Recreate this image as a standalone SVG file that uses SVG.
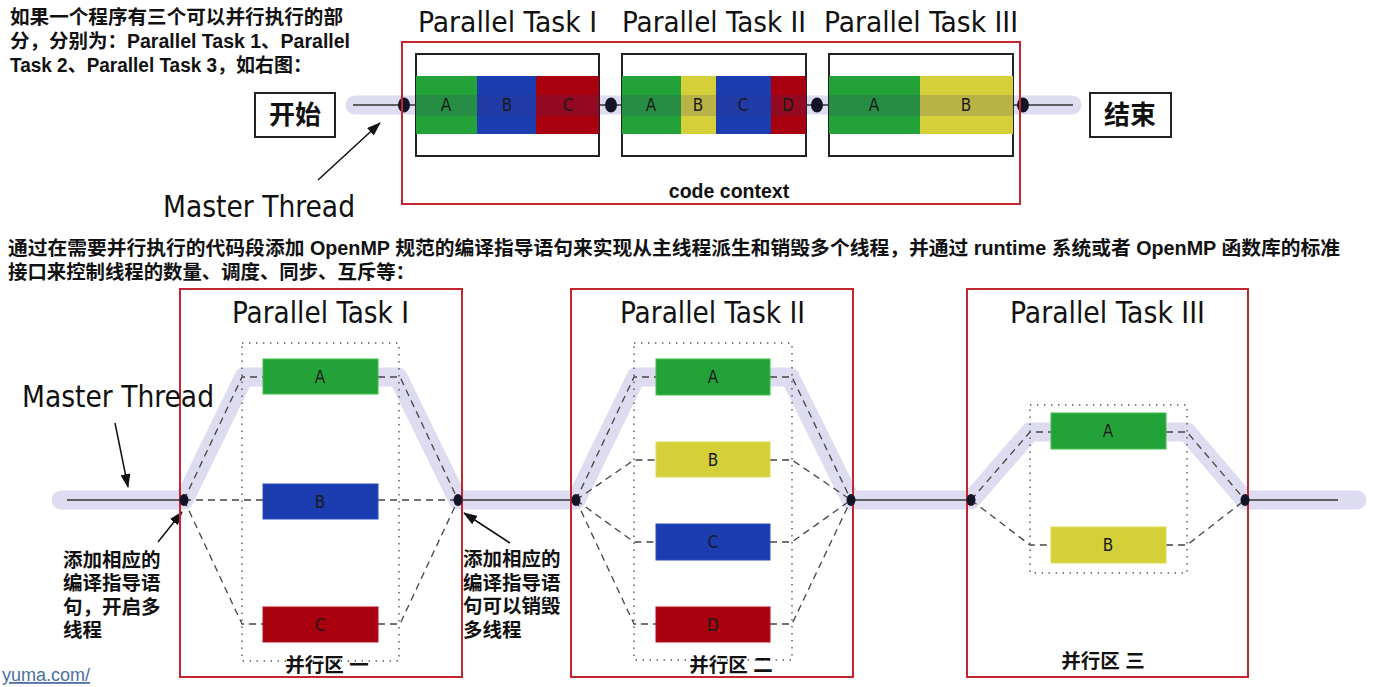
<svg xmlns="http://www.w3.org/2000/svg" width="1387" height="687" viewBox="0 0 1387 687">
<style>
.cjk{font-family:"Liberation Sans","Noto Sans CJK SC",sans-serif;font-weight:bold;font-size:19.5px;fill:#111}
.title{font-family:"DejaVu Sans Condensed","DejaVu Sans",sans-serif;font-size:29px;fill:#111}
.lbl{font-family:"DejaVu Sans Condensed","DejaVu Sans",sans-serif;font-size:17px;fill:#1a1a1a;text-anchor:middle}
.redbox{fill:none;stroke:#c3262f;stroke-width:2}
.inbox{fill:#fff;stroke:#222;stroke-width:2}
.band{fill:none;stroke:#dedcf0;stroke-width:19;stroke-linecap:round;stroke-linejoin:round}
.thin{stroke:#333;stroke-width:1.3;fill:none}
.dash{stroke:#444;stroke-width:1.3;fill:none;stroke-dasharray:7 5}
.dot{fill:none;stroke:#555;stroke-width:1.4;stroke-dasharray:1.4 5.6}
.g{fill:#23a23a;stroke:#3fc04a;stroke-width:1}
.b{fill:#1c3db0;stroke:#2a4cc0;stroke-width:1}
.r{fill:#a8000f;stroke:#b81020;stroke-width:1}
.y{fill:#d5d03a;stroke:#e0da50;stroke-width:1}
.node{fill:#141428}
.arr{stroke:#111;stroke-width:1.5;fill:none;marker-end:url(#ah)}
</style>
<defs>
<marker id="ah" markerUnits="userSpaceOnUse" markerWidth="14" markerHeight="10" viewBox="0 0 14 10" refX="13" refY="5" orient="auto">
<path d="M0,0 L14,5 L0,10 z" fill="#111"/>
</marker>
</defs>
<rect width="1387" height="687" fill="#fff"/>

<g id="intro-text">
<text class="cjk" x="10" y="24" textLength="333" lengthAdjust="spacingAndGlyphs">如果一个程序有三个可以并行执行的部</text>
<text class="cjk" x="10" y="48" textLength="340" lengthAdjust="spacingAndGlyphs">分，分别为：Parallel Task 1、Parallel</text>
<text class="cjk" x="10" y="72" textLength="302" lengthAdjust="spacingAndGlyphs">Task 2、Parallel Task 3，如右图：</text>
</g>

<g id="top-titles">
<text class="title" x="418" y="32" textLength="179" lengthAdjust="spacingAndGlyphs">Parallel Task I</text>
<text class="title" x="622" y="32" textLength="184" lengthAdjust="spacingAndGlyphs">Parallel Task II</text>
<text class="title" x="824" y="32" textLength="194" lengthAdjust="spacingAndGlyphs">Parallel Task III</text>
</g>

<g id="top-connectors">
<path class="band" d="M355,105 H1072"/>
<path class="thin" d="M353,105 H1073"/>
</g>

<g id="top-task1">
<rect class="inbox" x="416" y="54" width="183" height="102"/>
<rect x="416" y="76" width="61" height="58" fill="#23a23a"/>
<rect x="477" y="76" width="59" height="58" fill="#1c3db0"/>
<rect x="536" y="76" width="63" height="58" fill="#a8000f"/>
<rect x="416" y="95" width="183" height="21" fill="#3c3278" fill-opacity="0.18"/>
<text class="lbl" x="446" y="111">A</text>
<text class="lbl" x="507" y="111">B</text>
<text class="lbl" x="568" y="111">C</text>
</g>
<g id="top-task2">
<rect class="inbox" x="622" y="54" width="184" height="102"/>
<rect x="622" y="76" width="59" height="58" fill="#23a23a"/>
<rect x="681" y="76" width="35" height="58" fill="#d5d03a"/>
<rect x="716" y="76" width="55" height="58" fill="#1c3db0"/>
<rect x="771" y="76" width="35" height="58" fill="#a8000f"/>
<rect x="622" y="95" width="184" height="21" fill="#3c3278" fill-opacity="0.18"/>
<text class="lbl" x="651" y="111">A</text>
<text class="lbl" x="698" y="111">B</text>
<text class="lbl" x="743" y="111">C</text>
<text class="lbl" x="788" y="111">D</text>
</g>
<g id="top-task3">
<rect class="inbox" x="829" y="54" width="184" height="102"/>
<rect x="829" y="76" width="91" height="58" fill="#23a23a"/>
<rect x="920" y="76" width="93" height="58" fill="#d5d03a"/>
<rect x="829" y="95" width="184" height="21" fill="#3c3278" fill-opacity="0.18"/>
<text class="lbl" x="874" y="111">A</text>
<text class="lbl" x="966" y="111">B</text>
</g>
<g id="top-dots">
<ellipse class="node" cx="404" cy="105" rx="6" ry="7.5"/>
<ellipse class="node" cx="611" cy="105" rx="6" ry="7.5"/>
<ellipse class="node" cx="817" cy="105" rx="6" ry="7.5"/>
<ellipse class="node" cx="1023" cy="105" rx="6" ry="7.5"/>
</g>
<g id="code-context">
<rect class="redbox" x="402" y="42" width="618" height="162"/>
<text class="cjk" x="729" y="198" text-anchor="middle">code context</text>
</g>
<g id="start">
<rect x="255" y="93" width="80" height="44" fill="#fff" stroke="#222" stroke-width="2"/>
<text class="cjk" x="295" y="124" text-anchor="middle" style="font-size:26px">开始</text>
</g>
<g id="end">
<rect x="1090" y="93" width="81" height="44" fill="#fff" stroke="#222" stroke-width="2"/>
<text class="cjk" x="1130" y="124" text-anchor="middle" style="font-size:26px">结束</text>
</g>
<g id="top-master">
<text class="title" x="163" y="217" style="font-size:30px" textLength="192" lengthAdjust="spacingAndGlyphs">Master Thread</text>
<line class="arr" x1="318" y1="180" x2="380" y2="123"/>
</g>

<g id="para-text">
<text class="cjk" x="8" y="255" textLength="1332" lengthAdjust="spacingAndGlyphs">通过在需要并行执行的代码段添加 OpenMP 规范的编译指导语句来实现从主线程派生和销毁多个线程，并通过 runtime 系统或者 OpenMP 函数库的标准</text>
<text class="cjk" x="8" y="279" textLength="407" lengthAdjust="spacingAndGlyphs">接口来控制线程的数量、调度、同步、互斥等：</text>
</g>

<g id="connectors">
<path class="band" d="M61,500 H184 L244,377 H398 L458,500 H576 L636,377 H790 L851,500 H971 L1030,432 H1187 L1245,500 H1357"/>
<path class="thin" d="M67,500 H184 M458,500 H576 M851,500 H971 M1245,500 H1338"/>
<path class="dash" d="M184,500 L242,377 H263 M378,377 H400 L458,500 M184,500 H263 M378,500 H458 M184,500 L242,624 H263 M378,624 H400 L458,500"/>
<path class="dash" d="M576,500 L634,377 H656 M770,377 H792 L851,500 M576,500 L634,460 H656 M770,460 H792 L851,500 M576,500 L634,542 H656 M770,542 H792 L851,500 M576,500 L634,624 H656 M770,624 H792 L851,500"/>
<path class="dash" d="M971,500 L1030,432 H1051 M1166,432 H1187 L1245,500 M971,500 L1030,545 H1051 M1166,545 H1187 L1245,500"/>
<line class="arr" x1="115" y1="423" x2="128" y2="487"/>
<line class="arr" x1="158" y1="542" x2="182" y2="512"/>
<line class="arr" x1="510" y1="543" x2="464" y2="513"/>
</g>

<g id="region1">
<rect class="dot" x="242" y="343" width="157" height="318"/>
<rect class="g" x="263" y="359" width="115" height="35"/>
<rect class="b" x="263" y="484" width="115" height="35"/>
<rect class="r" x="263" y="607" width="115" height="35"/>
<text class="lbl" x="320" y="383">A</text>
<text class="lbl" x="320" y="508">B</text>
<text class="lbl" x="320" y="631">C</text>
<rect class="redbox" x="180" y="289" width="282" height="388"/>
<text class="title" x="232" y="323" style="font-size:30px" textLength="177" lengthAdjust="spacingAndGlyphs">Parallel Task I</text>
<text class="cjk" x="327" y="672" text-anchor="middle">并行区 一</text>
</g>
<g id="region2">
<rect class="dot" x="634" y="343" width="158" height="317"/>
<rect class="g" x="656" y="359" width="114" height="36"/>
<rect class="y" x="656" y="442" width="114" height="35"/>
<rect class="b" x="656" y="524" width="114" height="36"/>
<rect class="r" x="656" y="607" width="114" height="35"/>
<text class="lbl" x="713" y="383">A</text>
<text class="lbl" x="713" y="466">B</text>
<text class="lbl" x="713" y="548">C</text>
<text class="lbl" x="713" y="631">D</text>
<rect class="redbox" x="571" y="289" width="282" height="388"/>
<text class="title" x="620" y="323" style="font-size:30px" textLength="185" lengthAdjust="spacingAndGlyphs">Parallel Task II</text>
<text class="cjk" x="731" y="672" text-anchor="middle">并行区 二</text>
</g>
<g id="region3">
<rect class="dot" x="1030" y="405" width="157" height="168"/>
<rect class="g" x="1051" y="413" width="115" height="36"/>
<rect class="y" x="1051" y="527" width="115" height="36"/>
<text class="lbl" x="1108" y="437">A</text>
<text class="lbl" x="1108" y="551">B</text>
<rect class="redbox" x="967" y="289" width="281" height="388"/>
<text class="title" x="1010" y="323" style="font-size:30px" textLength="195" lengthAdjust="spacingAndGlyphs">Parallel Task III</text>
<text class="cjk" x="1103" y="668" text-anchor="middle">并行区 三</text>
</g>
<g id="bottom-dots">
<ellipse class="node" cx="184" cy="500" rx="4.5" ry="6"/>
<ellipse class="node" cx="458" cy="500" rx="4.5" ry="6"/>
<ellipse class="node" cx="576" cy="500" rx="4.5" ry="6"/>
<ellipse class="node" cx="851" cy="500" rx="4.5" ry="6"/>
<ellipse class="node" cx="971" cy="500" rx="4.5" ry="6"/>
<ellipse class="node" cx="1245" cy="500" rx="4.5" ry="6"/>
</g>
<g id="bottom-master">
<text class="title" x="22" y="407" style="font-size:30px" textLength="192" lengthAdjust="spacingAndGlyphs">Master Thread</text>
</g>
<g id="note-fork">
<text class="cjk" x="63" y="567">添加相应的</text>
<text class="cjk" x="63" y="590">编译指导语</text>
<text class="cjk" x="63" y="614">句，开启多</text>
<text class="cjk" x="63" y="637">线程</text>
</g>
<g id="note-join">
<text class="cjk" x="463" y="566">添加相应的</text>
<text class="cjk" x="463" y="590">编译指导语</text>
<text class="cjk" x="463" y="613">句可以销毁</text>
<text class="cjk" x="463" y="637">多线程</text>
</g>
<g id="link">
<text x="2" y="681" font-family="Liberation Sans, sans-serif" font-size="18" fill="#4a6fa5" text-decoration="underline">yuma.com/</text>
</g>
</svg>
